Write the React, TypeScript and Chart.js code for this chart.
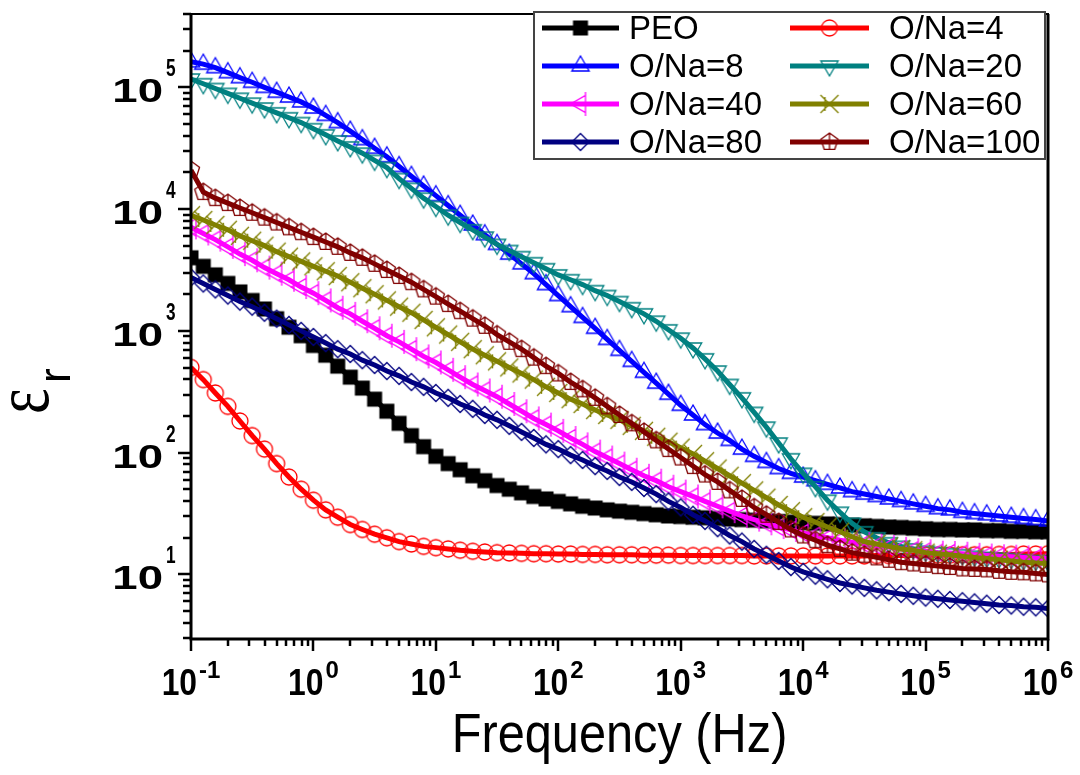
import React, { useEffect, useRef } from 'react';
import { Chart, registerables } from 'chart.js';
Chart.register(...registerables);

// Frequency grid (Hz), 10 points per decade
const freq = [0.1, 0.126, 0.158, 0.2, 0.251, 0.316, 0.398, 0.501, 0.631, 0.794,
  1, 1.26, 1.58, 2, 2.51, 3.16, 3.98, 5.01, 6.31, 7.94,
  10, 12.6, 15.8, 20, 25.1, 31.6, 39.8, 50.1, 63.1, 79.4,
  100, 126, 158, 200, 251, 316, 398, 501, 631, 794,
  1000, 1260, 1580, 2000, 2510, 3160, 3980, 5010, 6310, 7940,
  1e4, 1.26e4, 1.58e4, 2e4, 2.51e4, 3.16e4, 3.98e4, 5.01e4, 6.31e4, 7.94e4,
  1e5, 1.26e5, 1.58e5, 2e5, 2.51e5, 3.16e5, 3.98e5, 5.01e5, 6.31e5, 7.94e5, 1e6];

const PEO = [3981, 3388, 2884, 2455, 2089, 1778, 1514, 1259, 1072, 912,
  759, 631, 513, 417, 339, 275, 219, 174, 138, 112,
  93.3, 81.3, 72.4, 64.6, 58.9, 53.7, 50.1, 46.8, 43.7, 41.7,
  39.8, 38.0, 36.3, 35.1, 33.9, 33.1, 32.4, 31.6, 30.9, 30.2,
  29.9, 29.5, 29.2, 28.8, 28.5, 28.2, 27.9, 27.5, 27.2, 26.9,
  26.6, 26.3, 26.0, 25.7, 25.4, 25.1, 24.8, 24.5, 24.3, 24.0,
  23.7, 23.4, 23.4, 23.2, 23.2, 22.9, 22.9, 22.6, 22.6, 22.4, 22.4];

const ONa4 = [501, 398, 309, 240, 182, 138, 107, 81.3, 63.1, 50.1,
  40.7, 33.9, 29.5, 25.7, 23.4, 21.4, 20.0, 18.6, 17.8, 17.0,
  16.6, 16.2, 15.8, 15.5, 15.3, 15.1, 15.0, 14.9, 14.8, 14.8,
  14.7, 14.7, 14.6, 14.6, 14.5, 14.5, 14.5, 14.4, 14.4, 14.4,
  14.3, 14.3, 14.3, 14.3, 14.3, 14.3, 14.2, 14.2, 14.2, 14.2,
  14.2, 14.2, 14.2, 14.2, 14.2, 14.2, 14.3, 14.3, 14.3, 14.3,
  14.4, 14.4, 14.4, 14.5, 14.5, 14.5, 14.6, 14.6, 14.7, 14.7, 14.8];

const ONa8 = [162000, 155000, 145000, 132000, 120000, 110000, 100000, 91200, 83200, 75900,
  67600, 58900, 51300, 43700, 37200, 31600, 26900, 22400, 18600, 15500,
  12900, 10700, 8910, 7410, 6170, 5130, 4270, 3550, 2950, 2400,
  1950, 1580, 1290, 1050, 851, 692, 562, 457, 372, 302,
  245, 204, 170, 145, 126, 107, 93.3, 83.2, 74.1, 67.6,
  63.1, 58.9, 55.0, 51.3, 47.9, 45.7, 43.7, 41.7, 39.8, 38.0,
  36.3, 34.7, 33.9, 32.4, 31.6, 30.9, 30.2, 29.5, 28.8, 28.2, 27.5];

const ONa20 = [117000, 107000, 97700, 89100, 81300, 74100, 67600, 61700, 56200, 51300,
  45700, 40700, 36300, 32400, 28800, 25100, 21900, 17800, 14800, 12300,
  10500, 8910, 7760, 6760, 5890, 5130, 4570, 4070, 3630, 3240,
  2880, 2630, 2400, 2140, 1950, 1740, 1550, 1380, 1200, 1020,
  871, 724, 589, 468, 363, 282, 214, 162, 120, 89.1,
  67.6, 52.5, 40.7, 32.4, 26.3, 22.4, 20.0, 18.2, 17.0, 16.2,
  15.5, 15.1, 14.8, 14.5, 14.1, 13.8, 13.6, 13.5, 13.2, 13.0, 12.9];

const ONa40 = [7080, 6310, 5620, 4900, 4270, 3800, 3310, 2950, 2630, 2290,
  2040, 1780, 1550, 1380, 1200, 1050, 912, 813, 708, 617,
  550, 479, 417, 363, 324, 288, 251, 219, 191, 170,
  151, 132, 117, 102, 91.2, 81.3, 72.4, 64.6, 58.9, 52.5,
  47.9, 43.7, 39.8, 36.3, 33.1, 30.2, 28.2, 26.3, 24.5, 23.2,
  21.9, 20.9, 20.0, 19.1, 18.4, 17.8, 17.2, 16.8, 16.2, 15.8,
  15.5, 15.1, 15.0, 14.8, 14.5, 14.3, 14.1, 14.0, 13.8, 13.6, 13.5];

const ONa60 = [8910, 8130, 7410, 6760, 6030, 5500, 5010, 4470, 4070, 3720,
  3390, 3090, 2820, 2510, 2240, 2000, 1780, 1580, 1410, 1230,
  1070, 933, 813, 708, 631, 562, 501, 447, 398, 347,
  309, 275, 251, 224, 204, 186, 166, 151, 135, 123,
  110, 97.7, 85.1, 74.1, 64.6, 56.2, 49.0, 42.7, 37.2, 33.1,
  29.5, 26.9, 24.5, 22.4, 20.4, 18.6, 17.8, 17.0, 16.2, 15.8,
  15.1, 14.8, 14.5, 14.1, 13.8, 13.5, 13.2, 12.9, 12.6, 12.4, 12.3];

const ONa80 = [2750, 2450, 2190, 1950, 1740, 1580, 1410, 1260, 1120, 1000,
  891, 794, 708, 646, 575, 525, 468, 427, 380, 347,
  309, 282, 251, 229, 204, 186, 166, 148, 132, 117,
  107, 95.5, 87.1, 77.6, 70.8, 63.1, 57.5, 51.3, 45.7, 39.8,
  35.5, 30.9, 27.5, 24.0, 20.9, 18.6, 16.2, 14.5, 12.9, 11.5,
  10.5, 9.77, 9.12, 8.51, 8.13, 7.76, 7.41, 7.16, 6.92, 6.68,
  6.46, 6.31, 6.17, 6.03, 5.89, 5.75, 5.62, 5.56, 5.43, 5.37, 5.25];

const ONa100 = [20900, 13800, 12300, 11200, 10200, 9330, 8510, 7760, 7080, 6460,
  5890, 5370, 4900, 4370, 3980, 3550, 3160, 2820, 2510, 2190,
  1910, 1660, 1450, 1260, 1100, 933, 813, 708, 603, 513,
  447, 380, 331, 282, 240, 204, 174, 148, 126, 107,
  91.2, 77.6, 66.1, 57.5, 49.0, 41.7, 35.5, 30.9, 26.9, 23.4,
  20.9, 19.1, 17.4, 16.2, 15.1, 14.5, 13.8, 13.2, 12.6, 12.3,
  12.0, 11.7, 11.5, 11.2, 11.1, 11.0, 10.7, 10.5, 10.4, 10.2, 10.0];

const seriesNames = ['PEO', 'O/Na=4', 'O/Na=8', 'O/Na=20', 'O/Na=40', 'O/Na=60', 'O/Na=80', 'O/Na=100'];
const seriesValues = [PEO, ONa4, ONa8, ONa20, ONa40, ONa60, ONa80, ONa100];
const seriesColors = ['#000000', '#FF0000', '#0000FF', '#008080', '#FF00FF', '#808000', '#000080', '#800000'];
const seriesMarkers = ['square', 'circle', 'triUp', 'triDown', 'triLeft', 'bowtie', 'diamond', 'pentagon'];

const xTickExps = ['-1', '0', '1', '2', '3', '4', '5', '6'];
const yTickExps = ['1', '2', '3', '4', '5'];
const xTitle = 'Frequency (Hz)';
const yTitleMain = 'ε';
const yTitleSub = 'r';

const SANS = '"Liberation Sans", Arial, sans-serif';

function makeMarker(kind: string, color: string): HTMLCanvasElement {
  const S = 30, c = 15;
  const cv = document.createElement('canvas');
  cv.width = S; cv.height = S;
  const g = cv.getContext('2d')!;
  g.strokeStyle = color; g.fillStyle = color; g.lineWidth = 1.3;
  g.beginPath();
  if (kind === 'square') {
    g.fillRect(c - 7.5, c - 7.5, 15, 15);
    return cv;
  } else if (kind === 'circle') {
    g.arc(c, c, 8, 0, Math.PI * 2);
  } else if (kind === 'triUp' || kind === 'triDown' || kind === 'triLeft') {
    const r = 10;
    const base = kind === 'triUp' ? -Math.PI / 2 : kind === 'triDown' ? Math.PI / 2 : Math.PI;
    for (let k = 0; k < 3; k++) {
      const a = base + (k * 2 * Math.PI) / 3;
      const px = c + r * Math.cos(a), py = c + r * Math.sin(a);
      if (k === 0) g.moveTo(px, py); else g.lineTo(px, py);
    }
    g.closePath();
    if (kind === 'triLeft') {
      g.moveTo(c + 5, c - 12); g.lineTo(c + 5, c + 12);
    }
  } else if (kind === 'diamond') {
    g.moveTo(c, c - 8.5); g.lineTo(c + 8.5, c); g.lineTo(c, c + 8.5); g.lineTo(c - 8.5, c); g.closePath();
  } else if (kind === 'pentagon') {
    const r = 9;
    for (let k = 0; k < 5; k++) {
      const a = -Math.PI / 2 + (k * 2 * Math.PI) / 5;
      const px = c + r * Math.cos(a), py = c + r * Math.sin(a);
      if (k === 0) g.moveTo(px, py); else g.lineTo(px, py);
    }
    g.closePath();
    g.moveTo(c, c - 9); g.lineTo(c, c + 7.3);
  } else if (kind === 'bowtie') {
    g.moveTo(c - 9, c - 9); g.lineTo(c + 9, c + 9);
    g.moveTo(c + 9, c - 9); g.lineTo(c - 9, c + 9);
    g.moveTo(c - 4.5, c - 7); g.lineTo(c - 4.5, c + 7);
  }
  g.stroke();
  return cv;
}

function drawText(ctx: CanvasRenderingContext2D, s: string, x: number, y: number, font: string, sx: number, sy = 1) {
  ctx.save();
  ctx.font = font;
  ctx.translate(x, y);
  ctx.scale(sx, sy);
  ctx.textAlign = 'left';
  ctx.textBaseline = 'alphabetic';
  ctx.fillText(s, 0, 0);
  ctx.restore();
}

function textWidth(ctx: CanvasRenderingContext2D, s: string, font: string, sx: number) {
  ctx.save(); ctx.font = font; const w = ctx.measureText(s).width * sx; ctx.restore(); return w;
}

export default function App() {
  const ref = useRef<HTMLCanvasElement | null>(null);
  useEffect(() => {
    const canvas = ref.current!;
    const markers = seriesMarkers.map((m, i) => makeMarker(m, seriesColors[i]));
    const n = seriesNames.length;

    const decorPlugin = {
      id: 'decor',
      afterDraw(chart: any) {
        const ctx: CanvasRenderingContext2D = chart.ctx;
        const a = chart.chartArea;
        const xs = chart.scales.x, ys = chart.scales.y;
        ctx.save();
        ctx.fillStyle = '#000';
        ctx.strokeStyle = '#000';
        // frame
        ctx.lineWidth = 2;
        ctx.strokeRect(a.left, a.top, a.right - a.left, a.bottom - a.top);
        ctx.lineWidth = 3;
        ctx.beginPath();
        ctx.moveTo(a.left, a.top); ctx.lineTo(a.left, a.bottom + 1.5);
        ctx.moveTo(a.left - 1.5, a.bottom); ctx.lineTo(a.right + 1.5, a.bottom);
        ctx.moveTo(a.right, a.top); ctx.lineTo(a.right, a.bottom);
        ctx.stroke();

        // x ticks
        ctx.lineWidth = 2.5;
        ctx.beginPath();
        for (let e = -1; e <= 6; e++) {
          for (let m = 1; m <= 9; m++) {
            const v = m * Math.pow(10, e);
            if (v < xs.min * 0.999 || v > xs.max * 1.001) continue;
            const px = Math.round(xs.getPixelForValue(v));
            const len = m === 1 ? 12 : 7;
            ctx.moveTo(px, a.bottom); ctx.lineTo(px, a.bottom + len);
          }
        }
        // y ticks
        for (let e = 0; e <= 5; e++) {
          for (let m = 1; m <= 9; m++) {
            const v = m * Math.pow(10, e);
            if (v < ys.min || v > ys.max) continue;
            const py = Math.round(ys.getPixelForValue(v));
            const len = m === 1 ? 13 : 8;
            ctx.moveTo(a.left, py); ctx.lineTo(a.left - len, py);
          }
        }
        ctx.stroke();

        // x tick labels
        const xBaseFont = `bold 37px ${SANS}`;
        const xExpFont = `bold 24px ${SANS}`;
        xTickExps.forEach((ex) => {
          const v = Math.pow(10, Number(ex));
          const px = xs.getPixelForValue(v);
          const wb = textWidth(ctx, '10', xBaseFont, 0.86);
          const we = textWidth(ctx, ex, xExpFont, 1.0);
          const total = wb + 2 + we;
          const x0 = px - total / 2;
          drawText(ctx, '10', x0, 695, xBaseFont, 0.86);
          drawText(ctx, ex, x0 + wb + 2, 678, xExpFont, 1.0);
        });
        // y tick labels
        const yBaseFont = `bold 34px ${SANS}`;
        const yExpFont = `bold 23px ${SANS}`;
        yTickExps.forEach((ex) => {
          const v = Math.pow(10, Number(ex));
          const py = ys.getPixelForValue(v);
          const wb = textWidth(ctx, '10', yBaseFont, 1.34);
          drawText(ctx, '10', 163 - wb, py + 15, yBaseFont, 1.34);
          drawText(ctx, ex, 166, py - 11, yExpFont, 0.75);
        });

        // x title
        const tFont = `56px ${SANS}`;
        const tw = textWidth(ctx, xTitle, tFont, 0.87);
        drawText(ctx, xTitle, (a.left + a.right) / 2 - tw / 2, 752, tFont, 0.87);

        // y title (rotated)
        ctx.save();
        ctx.translate(48, 414);
        ctx.rotate(-Math.PI / 2);
        ctx.font = `72px "Liberation Serif", "Times New Roman", serif`;
        ctx.save(); ctx.scale(0.85, 1.1); ctx.fillText(yTitleMain, 0, 0); ctx.restore();
        ctx.font = `44px ${SANS}`;
        ctx.fillText(yTitleSub, 31, 22);
        ctx.restore();

        // legend
        const L = { left: 534, right: 1045, top: 12, bottom: 159 };
        ctx.fillStyle = '#fff';
        ctx.fillRect(L.left, L.top, L.right - L.left, L.bottom - L.top);
        ctx.strokeStyle = '#444';
        ctx.lineWidth = 2;
        ctx.strokeRect(L.left, L.top, L.right - L.left, L.bottom - L.top);
        const rows = [28, 66, 104, 142];
        const cols = [{ l0: 542, l1: 619, tx: 629 }, { l0: 790, l1: 869, tx: 889 }];
        ctx.font = `33px ${SANS}`;
        ctx.textBaseline = 'middle';
        ctx.textAlign = 'left';
        seriesNames.forEach((name, i) => {
          const r = rows[Math.floor(i / 2)];
          const col = cols[i % 2];
          ctx.strokeStyle = seriesColors[i];
          ctx.lineWidth = 5;
          ctx.beginPath(); ctx.moveTo(col.l0, r); ctx.lineTo(col.l1, r); ctx.stroke();
          const mk = markers[i];
          ctx.drawImage(mk, (col.l0 + col.l1) / 2 - mk.width / 2, r - mk.height / 2);
          ctx.fillStyle = '#000';
          ctx.fillText(name, col.tx, r + 2);
        });
        ctx.restore();
      },
    };

    const chart = new Chart(canvas, {
      type: 'line',
      data: {
        datasets: seriesNames.map((name, i) => ({
          label: name,
          data: freq.map((f, k) => ({ x: f, y: seriesValues[i][k] })),
          borderColor: seriesColors[i],
          backgroundColor: seriesColors[i],
          borderWidth: 5,
          pointStyle: markers[i] as any,
          pointRadius: 9,
          pointHoverRadius: 9,
          tension: 0,
          fill: false,
          order: n - 1 - i,
        })),
      },
      options: {
        animation: false,
        responsive: false,
        devicePixelRatio: 1,
        layout: { padding: { left: 191, right: 32, top: 9, bottom: 136 } },
        plugins: { legend: { display: false }, tooltip: { enabled: false } },
        scales: {
          x: { type: 'logarithmic', min: 0.1, max: 1e6, display: false },
          y: { type: 'logarithmic', min: 2.95, max: 4.0e5, display: false },
        },
      },
      plugins: [decorPlugin],
    } as any);
    return () => chart.destroy();
  }, []);

  return (
    <div style={{ position: 'absolute', left: 0, top: 0, width: 1080, height: 775, background: '#fff' }}>
      <canvas ref={ref} width={1080} height={775} style={{ width: 1080, height: 775 }} />
    </div>
  );
}
